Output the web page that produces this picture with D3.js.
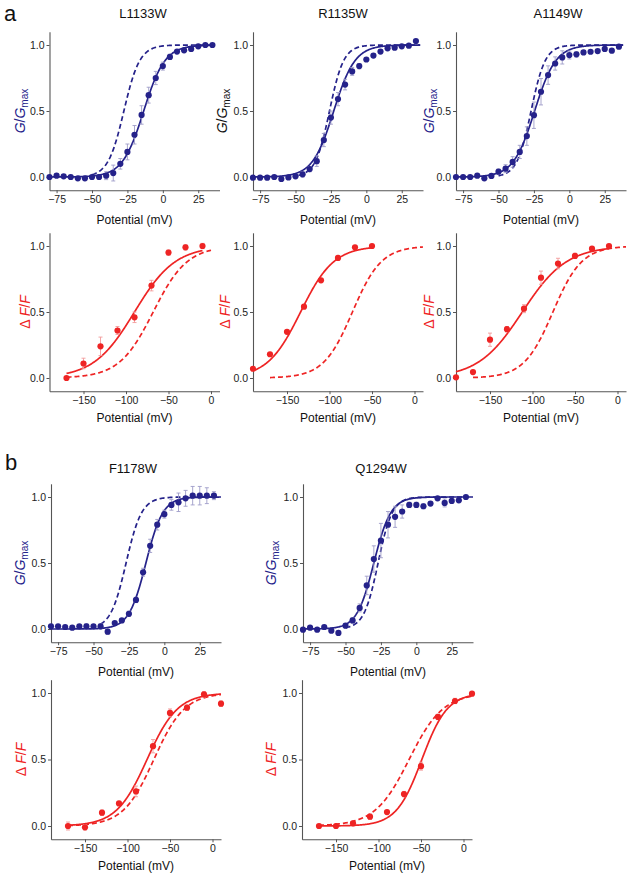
<!DOCTYPE html>
<html><head><meta charset="utf-8">
<script src="https://cdn.jsdelivr.net/npm/d3@7"></script>
<style>body{margin:0;background:#fff}svg{display:block}text{font-family:"Liberation Sans",Arial,sans-serif}</style>
</head><body><svg id="c" width="631" height="879"></svg>
<script>
// ---------- DATA ----------
const gVoltage = [-80,-75,-70,-65,-60,-55,-50,-45,-40,-35,-30,-25,-20,-15,-10,-5,0,5,10,15,20,25,30,35];
const gTicks = [-75,-50,-25,0,25];
const fTicks = [-150,-100,-50,0];
const yTicks = [0,0.5,1.0];

const L1133W_G    = [0.00,0.01,0.005,0.0,-0.01,-0.01,0.0,0.0,0.01,0.03,0.10,0.19,0.32,0.47,0.62,0.75,0.84,0.91,0.95,0.96,0.97,0.99,1.0,1.0];
const L1133W_Gerr = [0,0,0,0,0,0,0,0.01,0.03,0.06,0.04,0.06,0.07,0.07,0.06,0.05,0.03,0.02,0.01,0.01,0.01,0.01,0,0];
const R1135W_G    = [-0.005,-0.005,-0.005,0.0,-0.015,-0.003,0.005,0.02,0.06,0.12,0.28,0.45,0.59,0.70,0.80,0.84,0.89,0.92,0.95,0.975,0.98,0.99,0.995,1.03];
const R1135W_Gerr = [0,0,0,0,0.01,0.01,0.01,0.02,0.02,0.04,0.05,0.05,0.05,0.04,0.03,0.02,0.01,0.01,0.01,0.01,0.01,0.01,0,0];
const A1149W_G    = [0,0,0,0.01,-0.01,0.008,0.04,0.063,0.114,0.19,0.31,0.468,0.646,0.772,0.86,0.906,0.924,0.929,0.944,0.949,0.954,0.97,0.957,0.987];
const A1149W_Gerr = [0,0,0,0,0,0.01,0.02,0.03,0.04,0.05,0.07,0.10,0.10,0.07,0.05,0.05,0.03,0.02,0.01,0.01,0.01,0.01,0.01,0.01];
const F1178W_G    = [0.02,0.02,0.015,0.01,0.02,0.02,0.02,0.02,-0.02,0.045,0.065,0.115,0.22,0.43,0.63,0.79,0.87,0.94,0.96,0.99,1.01,1.01,1.01,1.01];
const F1178W_Gerr = [0,0.01,0,0,0.01,0.02,0.01,0.02,0.02,0.01,0.01,0.02,0.02,0.03,0.05,0.04,0.03,0.04,0.07,0.06,0.07,0.07,0.06,0.03];
const Q1294W_G    = [-0.005,0.01,-0.005,0.015,-0.013,-0.03,0.025,0.065,0.16,0.33,0.53,0.67,0.79,0.85,0.89,0.94,0.94,0.93,0.95,0.99,0.955,0.97,0.975,1.0];
const Q1294W_Gerr = [0,0,0,0,0.01,0.01,0.01,0.02,0.03,0.07,0.10,0.13,0.10,0.08,0.05,0.02,0.02,0.02,0.01,0.01,0.03,0.01,0.01,0];

const L1133W_FV   = [-170,-150,-130,-110,-90,-70,-50,-30,-10];
const L1133W_F    = [0.0,0.11,0.24,0.36,0.46,0.70,0.95,0.99,1.0];
const L1133W_Ferr = [0.01,0.04,0.07,0.03,0.04,0.04,0.02,0.02,0.02];
const R1135W_FV   = [-190,-170,-150,-130,-110,-90,-70,-50];
const R1135W_F    = [0.07,0.18,0.35,0.54,0.74,0.91,0.99,1.0];
const R1135W_Ferr = [0.01,0.01,0.01,0.01,0.01,0.01,0.01,0.01];
const A1149W_FV   = [-190,-170,-150,-130,-110,-90,-70,-50,-30,-10];
const A1149W_F    = [0.005,0.045,0.29,0.37,0.525,0.76,0.867,0.925,0.98,1.0];
const A1149W_Ferr = [0,0.01,0.05,0.02,0.03,0.05,0.04,0.02,0.01,0.01];
const F1178W_FV   = [-170,-150,-130,-110,-90,-70,-50,-30,-10,10];
const F1178W_F    = [0.0,-0.01,0.10,0.17,0.26,0.60,0.85,0.89,0.99,0.92];
const F1178W_Ferr = [0.03,0.02,0.02,0.01,0.04,0.05,0.03,0.02,0.02,0.02];
const Q1294W_FV   = [-170,-150,-130,-110,-90,-70,-50,-30,-10,10];
const Q1294W_F    = [0.0,0.0,0.02,0.07,0.105,0.24,0.45,0.82,0.94,0.995];
const Q1294W_Ferr = [0.01,0.01,0.01,0.02,0.01,0.02,0.03,0.02,0.02,0.01];

// Boltzmann fit parameters: [V1/2, slope k, Vstart, Vend]
const fitSolid = {
  L1133W_G:[-13.5,7.5,-80,35], R1135W_G:[-23,7.5,-80,38], A1149W_G:[-24.5,7.5,-80,38],
  F1178W_G:[-13,6,-80,40], Q1294W_G:[-30,6,-80,40],
  L1133W_F:[-90,24,-170,-10], R1135W_F:[-134,19.5,-190,-50], A1149W_F:[-112,26,-190,-10],
  F1178W_F:[-77,18,-170,10], Q1294W_F:[-49,15,-170,10]
};
const fitDashed = {
  L1133W_G:[-27.5,5.6,-50,35], R1135W_G:[-26,5,-48,38], A1149W_G:[-27,5,-50,38],
  F1178W_G:[-27,5.5,-45,35], Q1294W_G:[-27,5,-50,35],
  L1133W_F:[-68,20,-170,0], R1135W_F:[-73,17,-170,10], A1149W_F:[-76,17,-170,10],
  F1178W_F:[-69,18,-170,10], Q1294W_F:[-64,20,-170,10]
};
const titles = ["L1133W","R1135W","A1149W","F1178W","Q1294W"];

// ---------- STYLE / LAYOUT ----------
const NAVY="#25228a", RED="#ee2424", NAVY_ERR="#9e9cc8", RED_ERR="#f39a9a";
const W=170;
const panels = [
  {key:"L1133W_G", kind:"G", left:49.5, top:31.8, bot:190.2, v:gVoltage, y:L1133W_G, e:L1133W_Gerr, lab:NAVY, lx:-25},
  {key:"R1135W_G", kind:"G", left:253, top:31.8, bot:190.2, v:gVoltage, y:R1135W_G, e:R1135W_Gerr, lab:"#111", lx:-26},
  {key:"A1149W_G", kind:"G", left:456, top:31.8, bot:190.2, v:gVoltage, y:A1149W_G, e:A1149W_Gerr, lab:NAVY, lx:-22},
  {key:"L1133W_F", kind:"F", left:49.5, top:232.8, bot:391.2, v:L1133W_FV, y:L1133W_F, e:L1133W_Ferr, lab:RED, lx:-20},
  {key:"R1135W_F", kind:"F", left:253, top:232.8, bot:391.2, v:R1135W_FV, y:R1135W_F, e:R1135W_Ferr, lab:RED, lx:-23},
  {key:"A1149W_F", kind:"F", left:456, top:232.8, bot:391.2, v:A1149W_FV, y:A1149W_F, e:A1149W_Ferr, lab:RED, lx:-22},
  {key:"F1178W_G", kind:"G", left:51, top:483.8, bot:642.2, v:gVoltage, y:F1178W_G, e:F1178W_Gerr, lab:NAVY, lx:-26},
  {key:"Q1294W_G", kind:"G", left:303, top:483.8, bot:642.2, v:gVoltage, y:Q1294W_G, e:Q1294W_Gerr, lab:NAVY, lx:-27},
  {key:"F1178W_F", kind:"F", left:51, top:679.7, bot:839.3, v:F1178W_FV, y:F1178W_F, e:F1178W_Ferr, lab:RED, lx:-25},
  {key:"Q1294W_F", kind:"F", left:302, top:679.7, bot:839.3, v:Q1294W_FV, y:Q1294W_F, e:Q1294W_Ferr, lab:RED, lx:-26}
];
const titlePos = [[143,18],[343,18],[558,18],[133,473],[381,473]];

const svg = d3.select("#c");
const boltz = (p,V)=>1/(1+Math.exp((p[0]-V)/p[1]));

panels.forEach(p=>{
  const isG = p.kind==="G";
  const col = isG?NAVY:RED, ecol = isG?NAVY_ERR:RED_ERR;
  const x = d3.scaleLinear().domain(isG?[-80,40]:[-190,10]).range([p.left,p.left+W]);
  const y = d3.scaleLinear().domain([-0.1,1.1]).range([p.bot,p.top]);
  const g = svg.append("g");

  const ax = g.append("g").attr("transform",`translate(0,${p.bot})`)
    .call(d3.axisBottom(x).tickValues(isG?gTicks:fTicks).tickSize(3).tickSizeOuter(0).tickPadding(2));
  const ay = g.append("g").attr("transform",`translate(${p.left},0)`)
    .call(d3.axisLeft(y).tickValues(yTicks).tickFormat(d3.format(".1f")).tickSize(3).tickSizeOuter(0).tickPadding(2));
  [ax,ay].forEach(a=>{
    a.select(".domain").attr("stroke","#555").attr("stroke-width",1.1);
    a.selectAll(".tick line").attr("stroke","#555");
    a.selectAll("text").attr("font-size",10.5).attr("fill","#222").attr("font-family","Liberation Sans, Arial, sans-serif");
  });

  const line = d3.line().x(d=>x(d[0])).y(d=>y(d[1]));
  const curve = (pr)=>d3.range(pr[2],pr[3]+0.001,0.5).map(V=>[V,boltz(pr,V)]);
  g.append("path").attr("d",line(curve(fitDashed[p.key]))).attr("fill","none")
    .attr("stroke",col).attr("stroke-width",1.7).attr("stroke-dasharray","5,3");
  g.append("path").attr("d",line(curve(fitSolid[p.key]))).attr("fill","none")
    .attr("stroke",col).attr("stroke-width",1.7);

  const pts = p.v.map((V,i)=>({V, val:p.y[i], err:p.e[i]}));
  const eb = g.append("g").attr("stroke",ecol).attr("stroke-width",0.9);
  pts.filter(d=>d.err>0.005).forEach(d=>{
    const x0=x(d.V), y1=y(d.val-d.err), y2=y(d.val+d.err);
    eb.append("line").attr("x1",x0).attr("x2",x0).attr("y1",y1).attr("y2",y2);
    eb.append("line").attr("x1",x0-2).attr("x2",x0+2).attr("y1",y1).attr("y2",y1);
    eb.append("line").attr("x1",x0-2).attr("x2",x0+2).attr("y1",y2).attr("y2",y2);
  });
  g.selectAll("circle.pt").data(pts).enter().append("circle")
    .attr("cx",d=>x(d.V)).attr("cy",d=>y(d.val)).attr("r",3.1).attr("fill",col);

  g.append("text").attr("x",p.left+W/2).attr("y",p.bot+(isG?34:31)).attr("text-anchor","middle")
    .attr("font-size",12).attr("fill","#111").text("Potential (mV)");

  const yl = g.append("text").attr("transform",`translate(${p.left+p.lx},${y(0.5)}) rotate(-90)`)
    .attr("text-anchor","middle").attr("font-size",14).attr("fill",p.lab);
  if(isG){
    yl.append("tspan").attr("font-style","italic").text("G");
    yl.append("tspan").text("/");
    yl.append("tspan").attr("font-style","italic").text("G");
    yl.append("tspan").attr("font-size",10).attr("dy",3).text("max");
  } else {
    yl.append("tspan").text("\u0394 ");
    yl.append("tspan").attr("font-style","italic").text("F");
    yl.append("tspan").text("/");
    yl.append("tspan").attr("font-style","italic").text("F");
  }
});

titles.forEach((t,i)=>{
  svg.append("text").attr("x",titlePos[i][0]).attr("y",titlePos[i][1]).attr("text-anchor","middle")
    .attr("font-size",13).attr("fill","#111").text(t);
});
svg.append("text").attr("x",4).attr("y",21).attr("font-size",22).attr("fill","#111").text("a");
svg.append("text").attr("x",5).attr("y",470).attr("font-size",22).attr("fill","#111").text("b");
</script></body></html>
